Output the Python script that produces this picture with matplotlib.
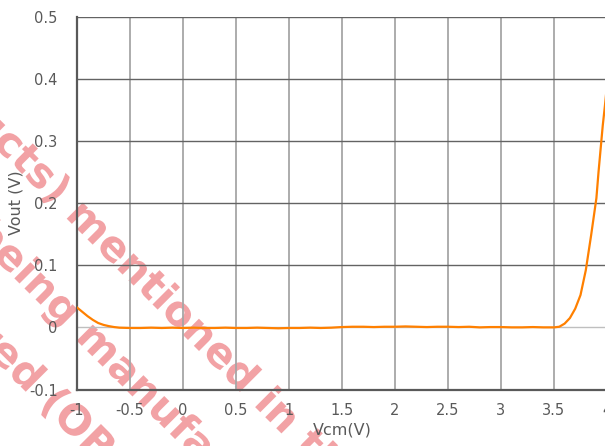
import matplotlib
matplotlib.use("Agg")
import matplotlib.pyplot as plt
import matplotlib.patheffects as pe
from matplotlib.transforms import IdentityTransform

# Vout vs Vcm
vcm = [-1.0, -0.95, -0.9, -0.85, -0.8, -0.75, -0.7, -0.65, -0.6, -0.5, -0.4, -0.3, -0.2,
       -0.1, 0.0, 0.1, 0.2, 0.3, 0.4, 0.5, 0.6, 0.7, 0.8, 0.9, 1.0, 1.1, 1.2, 1.3, 1.4,
       1.5, 1.6, 1.7, 1.8, 1.9, 2.0, 2.1, 2.2, 2.3, 2.4, 2.5, 2.6, 2.7, 2.8, 2.9, 3.0,
       3.1, 3.2, 3.3, 3.4, 3.5, 3.55, 3.6, 3.65, 3.7, 3.75, 3.8, 3.85, 3.9, 3.92, 3.96,
       3.98, 4.0]
vout = [0.032, 0.025, 0.018, 0.012, 0.007, 0.004, 0.002, 0.0005, -0.0005, -0.001, -0.001,
        -0.0005, -0.001, -0.0005, -0.001, -0.0005, -0.001, -0.001, -0.0005, -0.001,
        -0.001, -0.0005, -0.001, -0.0015, -0.001, -0.001, -0.0005, -0.001, -0.0005,
        0.0005, 0.001, 0.001, 0.0005, 0.001, 0.001, 0.0015, 0.001, 0.0005, 0.001,
        0.001, 0.0005, 0.001, 0.0, 0.0005, 0.0005, 0.0, 0.0, 0.0005, 0.0, 0.0,
        0.001, 0.006, 0.015, 0.03, 0.052, 0.092, 0.148, 0.208, 0.25, 0.325, 0.356, 0.39]

xticks = [-1, -0.5, 0, 0.5, 1, 1.5, 2, 2.5, 3, 3.5, 4]
xtick_labels = ["-1", "-0.5", "0", "0.5", "1", "1.5", "2", "2.5", "3", "3.5", "4"]
yticks = [-0.1, 0, 0.1, 0.2, 0.3, 0.4, 0.5]
ytick_labels = ["-0.1", "0", "0.1", "0.2", "0.3", "0.4", "0.5"]

W, H = 605, 446
fig = plt.figure(figsize=(W / 100, H / 100), dpi=100)
ax = fig.add_axes([77 / W, 1 - 389.5 / H, 530 / W, 372.8 / H])
ax.set_facecolor("none")

ax.plot(vcm, vout, color="#ff8000", linewidth=1.6, zorder=5)

ax.set_xlim(-1, 4)
ax.set_ylim(-0.1, 0.5)
ax.set_xticks(xticks)
ax.set_xticklabels(xtick_labels)
ax.set_yticks(yticks)
ax.set_yticklabels(ytick_labels)
ax.tick_params(length=0, labelsize=10.5, colors="#595959")
ax.tick_params(axis="x", pad=10)
ax.tick_params(axis="y", pad=14)

# grid: dark horizontals, light verticals
for xv in xticks[1:]:
    ax.axvline(xv, color="#a6a6a6", linewidth=1.3, zorder=1)
for yv in yticks[1:]:
    c = "#bfbfbf" if yv == 0 else "#636363"
    ax.axhline(yv, color=c, linewidth=1.0, zorder=1)

for side in ["top", "right"]:
    ax.spines[side].set_visible(False)
for side in ["left", "bottom"]:
    ax.spines[side].set_color("#595959")
    ax.spines[side].set_linewidth(1.6)

ax.set_xlabel("Vcm(V)", fontsize=11.5, color="#595959", labelpad=3)
ax.set_ylabel("Vout (V)", fontsize=11.5, color="#595959", labelpad=4)

# watermark
wm_lines = [
    ("(The products)", " mentioned in this document", (54, 206)),
    ("is being", " manufactured", (64, 328)),
    ("considered", " (OBSOLETE)", (28, 394)),
]
for left, right, (px, py) in wm_lines:
    for s, ha in [(left, "right"), (right, "left")]:
        fig.text(px, H - py, s, transform=IdentityTransform(), ha=ha, va="baseline",
                 rotation=-45, rotation_mode="anchor", fontsize=30, fontweight="bold",
                 color="#f2a2a5", zorder=-1,
                 path_effects=[pe.withStroke(linewidth=3, foreground="white")])

fig.savefig("out.png", dpi=100)
